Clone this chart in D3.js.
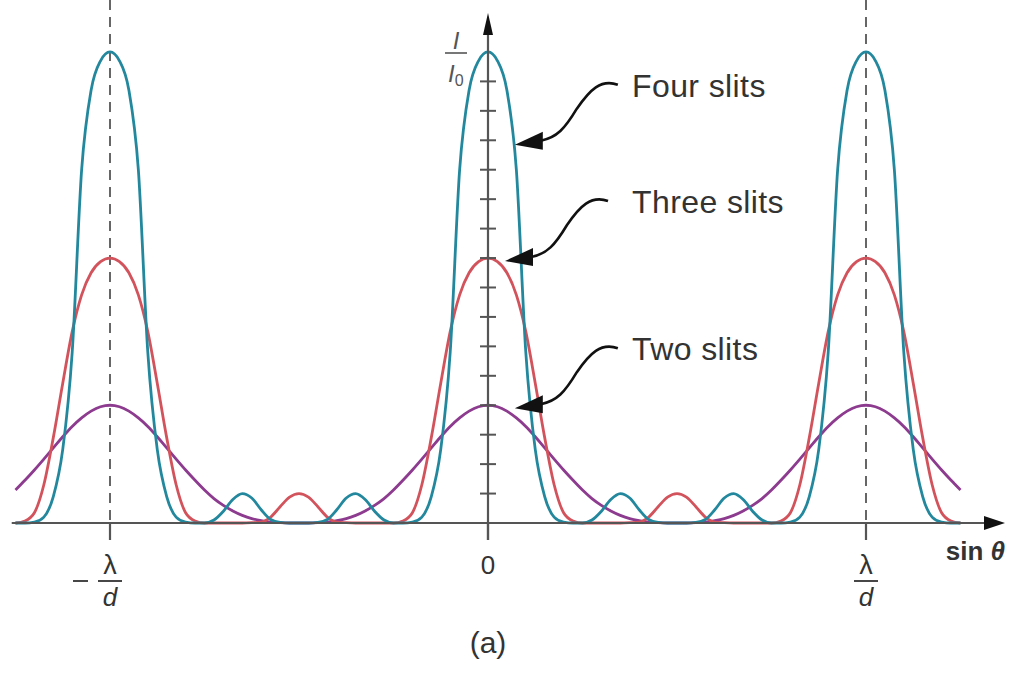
<!DOCTYPE html>
<html>
<head>
<meta charset="utf-8">
<script src="https://cdn.jsdelivr.net/npm/d3@7/dist/d3.min.js"></script>
<style>
  body { margin: 0; background: #ffffff; }
  svg { display: block; font-family: 'Liberation Sans', Arial, sans-serif; }
</style>
</head>
<body>
<svg id="canvas"></svg>
<script>

// Sample positions along the axis, sin(theta) in units of lambda/d.
var sinTheta = [
  -1.25, -1.225, -1.2, -1.175, -1.15, -1.125, -1.1, -1.075, -1.05, -1.025, -1,
  -0.975, -0.95, -0.925, -0.9, -0.875, -0.85, -0.825, -0.8, -0.775, -0.75,
  -0.725, -0.7, -0.675, -0.65, -0.625, -0.6, -0.575, -0.55, -0.525, -0.5,
  -0.475, -0.45, -0.425, -0.4, -0.375, -0.35, -0.325, -0.3, -0.275, -0.25,
  -0.225, -0.2, -0.175, -0.15, -0.125, -0.1, -0.075, -0.05, -0.025, 0,
  0.025, 0.05, 0.075, 0.1, 0.125, 0.15, 0.175, 0.2, 0.225, 0.25,
  0.275, 0.3, 0.325, 0.35, 0.375, 0.4, 0.425, 0.45, 0.475, 0.5,
  0.525, 0.55, 0.575, 0.6, 0.625, 0.65, 0.675, 0.7, 0.725, 0.75,
  0.775, 0.8, 0.825, 0.85, 0.875, 0.9, 0.925, 0.95, 0.975, 1,
  1.025, 1.05, 1.075, 1.1, 1.125, 1.15, 1.175, 1.2, 1.225, 1.25
];

// Relative intensity I/I0, two slits.
var twoSlits = [
  1.12, 1.45, 1.8, 2.17, 2.55, 2.93, 3.28, 3.57, 3.8, 3.95, 4.0,
  3.95, 3.8, 3.57, 3.28, 2.93, 2.55, 2.17, 1.8, 1.45, 1.12,
  0.83, 0.6, 0.41, 0.26, 0.15, 0.08, 0.03, 0.01, 0, 0,
  0, 0.01, 0.03, 0.08, 0.15, 0.26, 0.41, 0.6, 0.83, 1.12,
  1.45, 1.8, 2.17, 2.55, 2.93, 3.28, 3.57, 3.8, 3.95, 4.0,
  3.95, 3.8, 3.57, 3.28, 2.93, 2.55, 2.17, 1.8, 1.45, 1.12,
  0.83, 0.6, 0.41, 0.26, 0.15, 0.08, 0.03, 0.01, 0, 0,
  0, 0.01, 0.03, 0.08, 0.15, 0.26, 0.41, 0.6, 0.83, 1.12,
  1.45, 1.8, 2.17, 2.55, 2.93, 3.28, 3.57, 3.8, 3.95, 4.0,
  3.95, 3.8, 3.57, 3.28, 2.93, 2.55, 2.17, 1.8, 1.45, 1.12
];

// Relative intensity I/I0, three slits.
var threeSlits = [
  0, 0.07, 0.35, 1.3, 2.9, 4.75, 6.5, 7.75, 8.5, 8.88, 9.0,
  8.88, 8.5, 7.75, 6.5, 4.75, 2.9, 1.3, 0.35, 0.07, 0,
  0, 0, 0, 0, 0.01, 0.03, 0.2, 0.55, 0.88, 1.0,
  0.88, 0.55, 0.2, 0.03, 0.01, 0, 0, 0, 0, 0,
  0.07, 0.35, 1.3, 2.9, 4.75, 6.5, 7.75, 8.5, 8.88, 9.0,
  8.88, 8.5, 7.75, 6.5, 4.75, 2.9, 1.3, 0.35, 0.07, 0,
  0, 0, 0, 0, 0.01, 0.03, 0.2, 0.55, 0.88, 1.0,
  0.88, 0.55, 0.2, 0.03, 0.01, 0, 0, 0, 0, 0,
  0.07, 0.35, 1.3, 2.9, 4.75, 6.5, 7.75, 8.5, 8.88, 9.0,
  8.88, 8.5, 7.75, 6.5, 4.75, 2.9, 1.3, 0.35, 0.07, 0
];

// Relative intensity I/I0, four slits.
var fourSlits = [
  0, 0, 0.03, 0.2, 0.9, 2.5, 5.8, 12.0, 14.7, 15.7, 16,
  15.7, 14.7, 12.0, 5.8, 2.5, 0.9, 0.2, 0.03, 0, 0,
  0.1, 0.4, 0.8, 1.0, 0.85, 0.45, 0.12, 0.02, 0, 0,
  0, 0.02, 0.12, 0.45, 0.85, 1.0, 0.8, 0.4, 0.1, 0,
  0, 0.03, 0.2, 0.9, 2.5, 5.8, 12.0, 14.7, 15.7, 16,
  15.7, 14.7, 12.0, 5.8, 2.5, 0.9, 0.2, 0.03, 0, 0,
  0.1, 0.4, 0.8, 1.0, 0.85, 0.45, 0.12, 0.02, 0, 0,
  0, 0.02, 0.12, 0.45, 0.85, 1.0, 0.8, 0.4, 0.1, 0,
  0, 0.03, 0.2, 0.9, 2.5, 5.8, 12.0, 14.7, 15.7, 16,
  15.7, 14.7, 12.0, 5.8, 2.5, 0.9, 0.2, 0.03, 0, 0
];

// Tick values.
var yTicks = [1, 2, 3, 4, 5, 6, 7, 8, 9, 10, 11, 12, 13, 14, 15];
var xTicks = [-1, 0, 1];
var dashedAt = [-1, 1];

// Curve labels and the point each arrow lands on (data units).
var labelNames = ['Four slits', 'Three slits', 'Two slits'];
var labelTipX = [0.071, 0.045, 0.071];
var labelTipY = [12.85, 8.9, 3.9];

// Canvas and graph settings.
var canvas = {
  dim: { w: 1010, h: 678 },
  origin: { x: 488, y: 523 },
  unit: { x: 378, y: 29.44 },
  labelX: 632,
  colours: {
    two: '#8d3b8f',
    three: '#d2535c',
    four: '#23889d',
    axis: '#555555',
    dash: '#666666',
    text: '#333333'
  }
};

var svg = d3.select('#canvas')
            .attr('width', canvas.dim.w)
            .attr('height', canvas.dim.h);

svg.append('rect')
   .attr('width', canvas.dim.w)
   .attr('height', canvas.dim.h)
   .attr('fill', '#ffffff');

// Scales.
var x = d3.scaleLinear()
          .domain([-1, 1])
          .range([canvas.origin.x - canvas.unit.x, canvas.origin.x + canvas.unit.x]);

var y = d3.scaleLinear()
          .domain([0, 16])
          .range([canvas.origin.y, canvas.origin.y - 16 * canvas.unit.y]);

// Dashed lines at the first order maxima.
svg.append('g')
   .selectAll('line')
   .data(dashedAt)
   .enter()
   .append('line')
   .attr('x1', function(d) { return x(d); })
   .attr('x2', function(d) { return x(d); })
   .attr('y1', 0)
   .attr('y2', y(0))
   .attr('stroke', canvas.colours.dash)
   .attr('stroke-width', 2)
   .attr('stroke-dasharray', '10,7');

// Intensity curves.
var line = d3.line()
             .x(function(d, i) { return x(sinTheta[i]); })
             .y(function(d) { return y(d); })
             .curve(d3.curveMonotoneX);

var series = [
  { values: twoSlits, colour: canvas.colours.two },
  { values: threeSlits, colour: canvas.colours.three },
  { values: fourSlits, colour: canvas.colours.four }
];

svg.append('g')
   .selectAll('path')
   .data(series)
   .enter()
   .append('path')
   .attr('d', function(d) { return line(d.values); })
   .attr('fill', 'none')
   .attr('stroke', function(d) { return d.colour; })
   .attr('stroke-width', 2.8)
   .attr('stroke-linejoin', 'round');

// Axes.
var axes = svg.append('g')
              .attr('stroke', canvas.colours.axis)
              .attr('fill', canvas.colours.axis);

// Horizontal axis with arrow.
axes.append('line')
    .attr('x1', x(-1.26))
    .attr('x2', 990)
    .attr('y1', y(0))
    .attr('y2', y(0))
    .attr('stroke-width', 2.2);

axes.append('path')
    .attr('d', 'M1005,' + y(0) + 'L984,' + (y(0) - 7) + 'L984,' + (y(0) + 7) + 'Z')
    .attr('stroke', 'none')
    .attr('fill', '#111111');

// Vertical axis with arrow.
axes.append('line')
    .attr('x1', x(0))
    .attr('x2', x(0))
    .attr('y1', y(0) + 17)
    .attr('y2', 30)
    .attr('stroke-width', 2.2);

axes.append('path')
    .attr('d', 'M' + x(0) + ',13L' + (x(0) - 5) + ',35L' + (x(0) + 5) + ',35Z')
    .attr('stroke', 'none')
    .attr('fill', '#111111');

// Y ticks cross the axis.
axes.selectAll('.ytick')
    .data(yTicks)
    .enter()
    .append('line')
    .attr('class', 'ytick')
    .attr('x1', x(0) - 8)
    .attr('x2', x(0) + 8)
    .attr('y1', function(d) { return y(d); })
    .attr('y2', function(d) { return y(d); })
    .attr('stroke-width', 2);

// X ticks hang below the axis.
axes.selectAll('.xtick')
    .data(xTicks)
    .enter()
    .append('line')
    .attr('class', 'xtick')
    .attr('x1', function(d) { return x(d); })
    .attr('x2', function(d) { return x(d); })
    .attr('y1', y(0))
    .attr('y2', y(0) + 17)
    .attr('stroke-width', 2.2);

// Tick labels.
var tickText = svg.append('g')
                  .attr('fill', canvas.colours.text)
                  .attr('font-size', 26)
                  .attr('text-anchor', 'middle');

tickText.append('text')
        .attr('x', x(0))
        .attr('y', 574)
        .text('0');

// Lambda over d fractions at -1 and +1.
var fraction = function(cx, sign) {
  var g = tickText.append('g');
  g.append('text')
   .attr('x', cx)
   .attr('y', 574)
   .attr('font-size', 27)
   .text('\u03bb');
  g.append('line')
   .attr('x1', cx - 12)
   .attr('x2', cx + 12)
   .attr('y1', 581)
   .attr('y2', 581)
   .attr('stroke', canvas.colours.text)
   .attr('stroke-width', 1.8);
  g.append('text')
   .attr('x', cx)
   .attr('y', 606)
   .attr('font-style', 'italic')
   .text('d');
  if (sign < 0) {
    g.append('line')
     .attr('x1', cx - 37)
     .attr('x2', cx - 22)
     .attr('y1', 581)
     .attr('y2', 581)
     .attr('stroke', canvas.colours.text)
     .attr('stroke-width', 1.8);
  }
};
fraction(x(-1), -1);
fraction(x(1), 1);

// Axis titles.
var sinLabel = svg.append('text')
                  .attr('x', 1005)
                  .attr('y', 560)
                  .attr('text-anchor', 'end')
                  .attr('font-size', 26)
                  .attr('font-weight', 'bold')
                  .attr('fill', canvas.colours.text);
sinLabel.append('tspan').text('sin ');
sinLabel.append('tspan').attr('font-style', 'italic').text('\u03b8');

var yLabel = svg.append('g')
                .attr('fill', '#555555')
                .attr('font-size', 24)
                .attr('font-style', 'italic');
yLabel.append('text')
      .attr('x', 456)
      .attr('y', 49)
      .attr('text-anchor', 'middle')
      .text('I');
yLabel.append('line')
      .attr('x1', 445)
      .attr('x2', 467)
      .attr('y1', 53)
      .attr('y2', 53)
      .attr('stroke', '#555555')
      .attr('stroke-width', 1.6);
var i0 = yLabel.append('text')
               .attr('x', 448)
               .attr('y', 82);
i0.append('tspan').text('I');
i0.append('tspan')
  .attr('font-style', 'normal')
  .attr('font-size', 16)
  .attr('dy', 4)
  .text('0');

// Panel caption.
svg.append('text')
   .attr('x', x(0))
   .attr('y', 653)
   .attr('text-anchor', 'middle')
   .attr('font-size', 30)
   .attr('fill', canvas.colours.text)
   .text('(a)');

// Curve labels with curly arrows.
var notes = svg.append('g');
labelNames.forEach(function(name, i) {

  // Arrow tip on the curve.
  var tx = x(labelTipX[i]);
  var ty = y(labelTipY[i]);

  var g = notes.append('g')
               .attr('transform', 'translate(' + tx + ',' + ty + ')');

  g.append('path')
   .attr('d', 'M103,-60C86,-66 75,-55 62,-36C50,-16 42,-7 26,-4')
   .attr('fill', 'none')
   .attr('stroke', '#111111')
   .attr('stroke-width', 2.6);

  g.append('path')
   .attr('d', 'M0,0L28,-13L28,5Z')
   .attr('fill', '#111111');

  g.append('text')
   .attr('x', canvas.labelX - tx)
   .attr('y', -48)
   .attr('font-size', 32)
   .attr('letter-spacing', 0.4)
   .attr('fill', canvas.colours.text)
   .text(name);

});

</script>
</body>
</html>
